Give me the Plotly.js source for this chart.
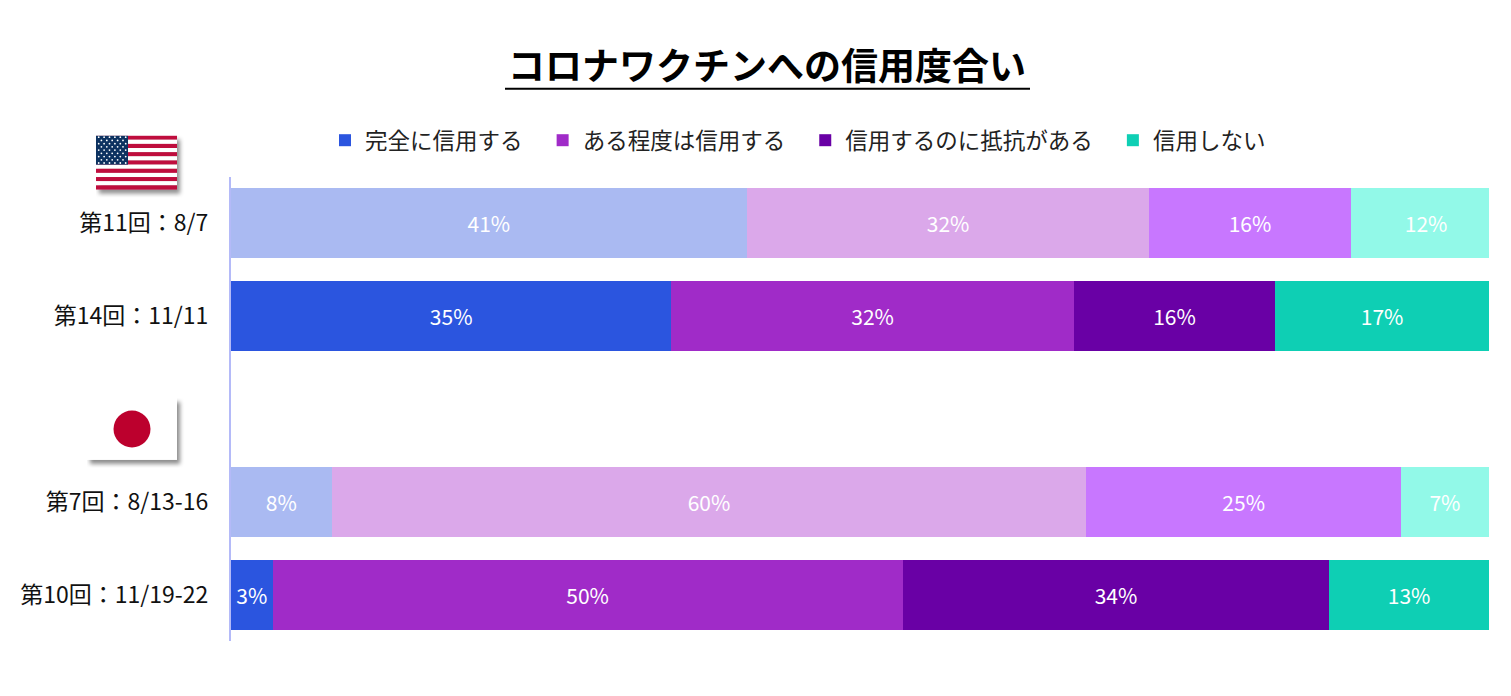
<!DOCTYPE html>
<html>
<head>
<meta charset="utf-8">
<script src="https://cdn.plot.ly/plotly-3.0.1.min.js"></script>
<style>
  html, body { margin: 0; padding: 0; background: #ffffff; }
  #chart { width: 1511px; height: 696px; }
</style>
</head>
<body>
<div id="chart"></div>
<script>
// ---- data (rows listed bottom-to-top) ----
const categories = ['第10回：11/19-22', '第7回：8/13-16', ' ', '第14回：11/11', '第11回：8/7'];
const seriesNames = ['完全に信用する', 'ある程度は信用する', '信用するのに抵抗がある', '信用しない'];
const fullTrust    = [3.3, 8, null, 35, 41];
const someTrust    = [50.1, 60, null, 32, 32];
const resistTrust  = [33.9, 25, null, 16, 16];
const noTrust      = [12.7, 7, null, 17, 12];
const chartTitle = 'コロナワクチンへの信用度合い';

// colours: dark = latest survey, light = earlier survey
const darkColors  = ['#2B55DF', '#A02BC8', '#6900A5', '#0ECFB4'];
const lightColors = ['#AABAF2', '#DBA8EA', '#C877FF', '#92F9E8'];
const isLatest = [true, false, true, true, false];

const seriesValues = [fullTrust, someTrust, resistTrust, noTrust];
const FONT = '"Noto Sans CJK JP", "Noto Sans", sans-serif';
const PAD = '\u00A0\u00A0\u00A0';

const traces = seriesValues.map((vals, i) => ({
  type: 'bar',
  orientation: 'h',
  name: seriesNames[i] + (i < seriesNames.length - 1 ? PAD : ''),
  y: categories,
  x: vals,
  marker: { color: isLatest.map(l => l ? darkColors[i] : lightColors[i]), line: { width: 0 } },
  texttemplate: '%{x:.0f}%',
  textposition: 'inside',
  insidetextanchor: 'middle',
  textangle: 0,
  constraintext: 'none',
  textfont: { color: '#ffffff', size: 21, family: FONT },
  hoverinfo: 'skip'
}));

// ---- plot-area geometry (pixels) ----
const W = 1511, H = 696;
const L = 231, R = 1489, T = 176.5, B = 641.5;
const px = x => (x - L) / (R - L);
const py = y => (B - y) / (B - T);

// ---- flag images (decoration) ----
function usFlag() {
  const fw = 81, fh = 54, s = fh / 13;
  let g = '';
  for (let k = 0; k < 13; k++) {
    g += `<rect x="0" y="${(k * s).toFixed(2)}" width="${fw}" height="${(s + 0.05).toFixed(2)}" fill="${k % 2 === 0 ? '#BF0D3E' : '#FFFFFF'}"/>`;
  }
  const cw = 32, ch = s * 7;
  g += `<rect x="0" y="0" width="${cw}" height="${ch.toFixed(2)}" fill="#0A3161"/>`;
  for (let r = 0; r < 9; r++) {
    const n = r % 2 === 0 ? 6 : 5;
    for (let c = 0; c < n; c++) {
      const cx = (r % 2 === 0 ? 2.7 : 5.4) + c * 5.4;
      const cy = 1.6 + r * (ch - 3.2) / 8;
      g += `<circle cx="${cx.toFixed(2)}" cy="${cy.toFixed(2)}" r="0.9" fill="#ffffff"/>`;
    }
  }
  return `<svg xmlns="http://www.w3.org/2000/svg" width="89" height="62" viewBox="0 0 89 62">
    <defs><filter id="s" x="-10%" y="-10%" width="130%" height="130%"><feDropShadow dx="3" dy="4" stdDeviation="2" flood-color="#000" flood-opacity="0.45"/></filter></defs>
    <g filter="url(#s)">${g}</g></svg>`;
}
function jpFlag() {
  return `<svg xmlns="http://www.w3.org/2000/svg" width="98" height="70" viewBox="0 0 98 70">
    <defs><filter id="s" x="-10%" y="-10%" width="130%" height="130%"><feDropShadow dx="3" dy="4" stdDeviation="2" flood-color="#000" flood-opacity="0.45"/></filter></defs>
    <g filter="url(#s)"><rect x="0" y="0" width="90" height="62" fill="#ffffff"/></g>
    <circle cx="45" cy="31" r="18.5" fill="#BC002D"/></svg>`;
}
const uri = s => 'data:image/svg+xml;charset=utf-8,' + encodeURIComponent(s);

const layout = {
  width: W, height: H,
  margin: { l: L, r: W - R, t: T, b: H - B, pad: 0 },
  paper_bgcolor: '#ffffff',
  plot_bgcolor: '#ffffff',
  barmode: 'stack',
  bargap: 0.247,
  showlegend: true,
  font: { family: FONT, color: '#000000' },
  title: {
    text: '<b>' + chartTitle + '</b>',
    font: { family: FONT, size: 37, color: '#000000' },
    xref: 'container', x: 767 / W, xanchor: 'center',
    yref: 'container', y: 1 - 67 / H, yanchor: 'middle'
  },
  legend: {
    orientation: 'h',
    xref: 'paper', x: px(798), xanchor: 'center',
    yref: 'paper', y: py(140), yanchor: 'middle',
    font: { family: FONT, size: 22.5, color: '#222222' },
    traceorder: 'normal',
    itemclick: false, itemdoubleclick: false
  },
  xaxis: {
    range: [0, 100],
    showgrid: false, zeroline: false, showline: false,
    showticklabels: false, ticks: '', fixedrange: true
  },
  yaxis: {
    type: 'category',
    categoryorder: 'array', categoryarray: categories,
    range: [-0.5, categories.length - 0.5],
    showgrid: false, zeroline: false,
    showline: true, linecolor: '#B4BAF8', linewidth: 2,
    ticks: '', ticklabelstandoff: 16,
    tickfont: { family: FONT, size: 23, color: '#111111' },
    fixedrange: true
  },
  shapes: [
    { type: 'line', xref: 'paper', yref: 'paper', x0: px(505), x1: px(1030), y0: py(88), y1: py(88),
      line: { color: '#000000', width: 2 } }
  ],
  images: [
    { source: uri(usFlag()), xref: 'paper', yref: 'paper', x: px(96), y: py(135), sizex: px(96 + 89) - px(96), sizey: py(135) - py(135 + 62),
      xanchor: 'left', yanchor: 'top', sizing: 'stretch', layer: 'above' },
    { source: uri(jpFlag()), xref: 'paper', yref: 'paper', x: px(87), y: py(398), sizex: px(87 + 98) - px(87), sizey: py(398) - py(398 + 70),
      xanchor: 'left', yanchor: 'top', sizing: 'stretch', layer: 'above' }
  ]
};

Plotly.newPlot('chart', traces, layout, { displayModeBar: false, staticPlot: true });
</script>
</body>
</html>
